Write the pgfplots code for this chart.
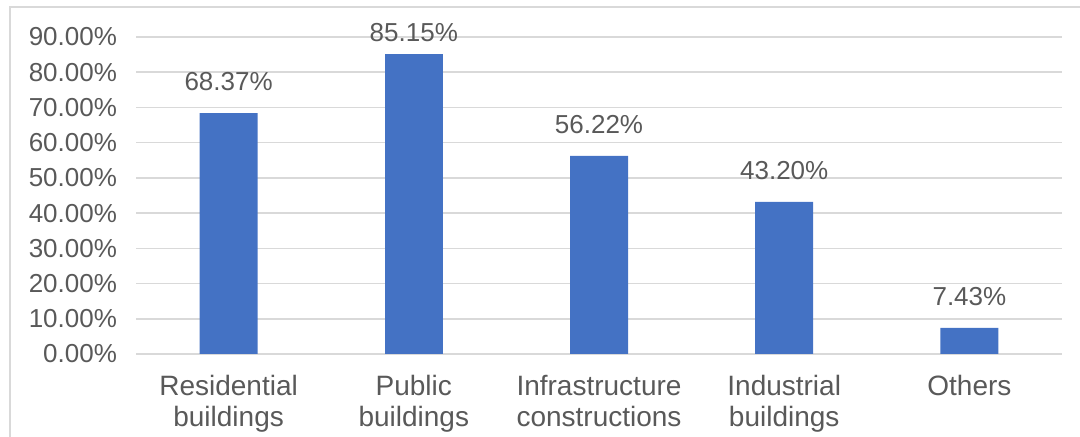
\documentclass[border=0pt]{standalone}
\usepackage{pgfplots}
\pgfplotsset{compat=1.18}
\usepackage{fontspec}
\setmainfont{Liberation Sans}
\definecolor{barblue}{HTML}{4472C4}
\definecolor{txt}{HTML}{595959}
\definecolor{gridgray}{HTML}{D9D9D9}
\begin{document}
\begin{tikzpicture}
\draw[draw=gridgray, line width=0.8pt] (5pt,-5pt) -- (5pt,215pt) -- (545pt,215pt);
\begin{axis}[
  at={(68pt,41.5pt)}, anchor=south west,
  scale only axis, width=463pt, height=158.5pt,
  xmin=-0.5, xmax=4.5, ymin=0, ymax=90,
  ytick={0,10,...,90},
  xtick={0,1,2,3,4},
  xticklabels={{Residential\\buildings},{Public\\buildings},{Infrastructure\\constructions},{Industrial\\buildings},{Others}},
  axis line style={draw=none},
  major tick length=0pt,
  ymajorgrids, xmajorgrids=false, grid style={draw=gridgray, line width=0.8pt},
  /pgf/number format/assume math mode=true,
  yticklabel={\pgfmathprintnumber[fixed,fixed zerofill,precision=2]{\tick}\%},
  yticklabel style={font=\fontsize{13}{15}\selectfont, text=txt, xshift=-6pt},
  xticklabel style={font=\fontsize{14}{15.5}\selectfont, text=txt, align=center, yshift=-7pt},
  ybar, bar width=29pt, bar shift=0pt,
  nodes near coords={\pgfmathprintnumber[fixed,fixed zerofill,precision=2]{\pgfplotspointmeta}\%},
  nodes near coords style={font=\fontsize{13}{15}\selectfont, text=txt, yshift=7.5pt},
  clip=false,
]
\addplot[fill=barblue, draw=none] coordinates {(0,68.37) (2,56.22) (3,43.20) (4,7.43)};
\addplot[fill=barblue, draw=none, nodes near coords style={yshift=-5pt}] coordinates {(1,85.15)};
\end{axis}
\pgfresetboundingbox
\path[use as bounding box] (0pt,0pt) rectangle (540pt,218.5pt);
\end{tikzpicture}
\end{document}
